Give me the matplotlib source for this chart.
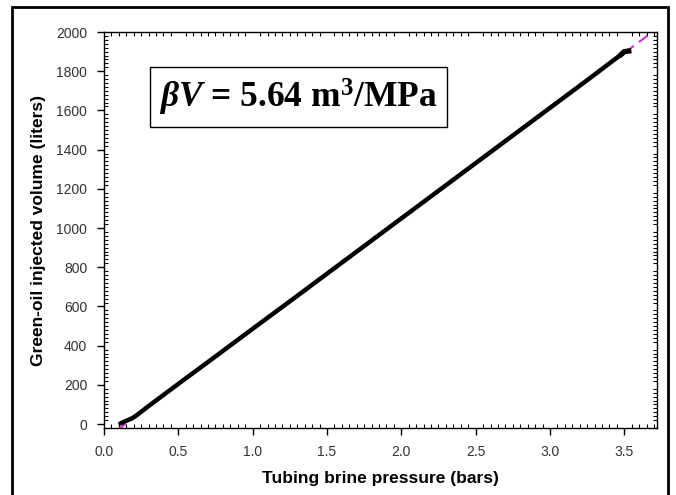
import matplotlib.pyplot as plt
from matplotlib.ticker import MultipleLocator
from matplotlib.patches import Rectangle
import numpy as np

plt.rcParams['mathtext.fontset'] = 'custom'
plt.rcParams['mathtext.rm'] = 'Liberation Serif:bold'
plt.rcParams['mathtext.it'] = 'Liberation Serif:italic:bold'
plt.rcParams['mathtext.bf'] = 'Liberation Serif:bold'

pressure = [0.11, 0.13, 0.16, 0.19, 0.22, 0.30, 0.50, 0.75, 1.00, 1.25, 1.50,
            1.75, 2.00, 2.25, 2.50, 2.75, 3.00, 3.25, 3.48, 3.50, 3.53]
volume = [3, 10, 20, 30, 45, 92, 205, 345, 486, 626, 767,
          908, 1049, 1190, 1331, 1472, 1613, 1754, 1886, 1900, 1903]

# linear fit, liters per bar (5.64 m3/MPa)
fit_slope = 564.0
fit_intercept = -81.0

x_ticks = [0.0, 0.5, 1.0, 1.5, 2.0, 2.5, 3.0, 3.5]
y_ticks = [0, 200, 400, 600, 800, 1000, 1200, 1400, 1600, 1800, 2000]

fig = plt.figure(figsize=(6.76, 4.95), dpi=100)
ax = fig.add_axes([104 / 676, 1 - 428 / 495, (657 - 104) / 676, (428 - 32) / 495])

fx = np.array([0.0, 3.8])
ax.plot(fx, fit_slope * fx + fit_intercept, color='#CC33CC', lw=1.5,
        ls=(0, (5, 3)), zorder=2)
ax.plot(pressure, volume, color='black', lw=3.2, solid_capstyle='round', zorder=3)
ax.plot(pressure[-3:], volume[-3:], color='black', lw=3.8, zorder=3)

ax.set_xlim(0, 3.72)
ax.set_ylim(-20, 2000)
ax.set_xticks(x_ticks)
ax.set_yticks(y_ticks)
ax.xaxis.set_minor_locator(MultipleLocator(0.05))
ax.yaxis.set_minor_locator(MultipleLocator(20))
ax.xaxis.set_major_formatter(plt.FuncFormatter(lambda v, p: f'{v:.1f}'))

ax.tick_params(which='major', direction='out', length=5, width=1,
               labelsize=10, labelcolor='#333333', pad=7)
ax.tick_params(which='minor', direction='in', length=3, width=0.8,
               top=True, right=True)
for lab in ax.get_xticklabels() + ax.get_yticklabels():
    lab.set_fontfamily('Liberation Sans')
for s in ax.spines.values():
    s.set_linewidth(1)

ax.set_xlabel('Tubing brine pressure (bars)', fontsize=12.5, fontweight='bold',
              family='Liberation Sans', labelpad=9)
ax.set_ylabel('Green-oil injected volume (liters)', fontsize=12.5,
              fontweight='bold', family='Liberation Sans', labelpad=7)

ax.text(0.1, 0.835, r'$\mathit{\beta V}$ = 5.64 m$^\mathbf{3}$/MPa', transform=ax.transAxes,
        fontsize=25.5, fontweight='bold', family='Liberation Serif',
        va='center', ha='left',
        bbox=dict(boxstyle='square,pad=0.27', fc='white', ec='black', lw=1))

# outer frame around the whole figure
fig.patches.append(Rectangle((12 / 676, -0.05), (668 - 12) / 676, 1.05 - 7 / 495,
                             transform=fig.transFigure, fill=False,
                             ec='black', lw=2))

fig.savefig('out.png', dpi=100)
